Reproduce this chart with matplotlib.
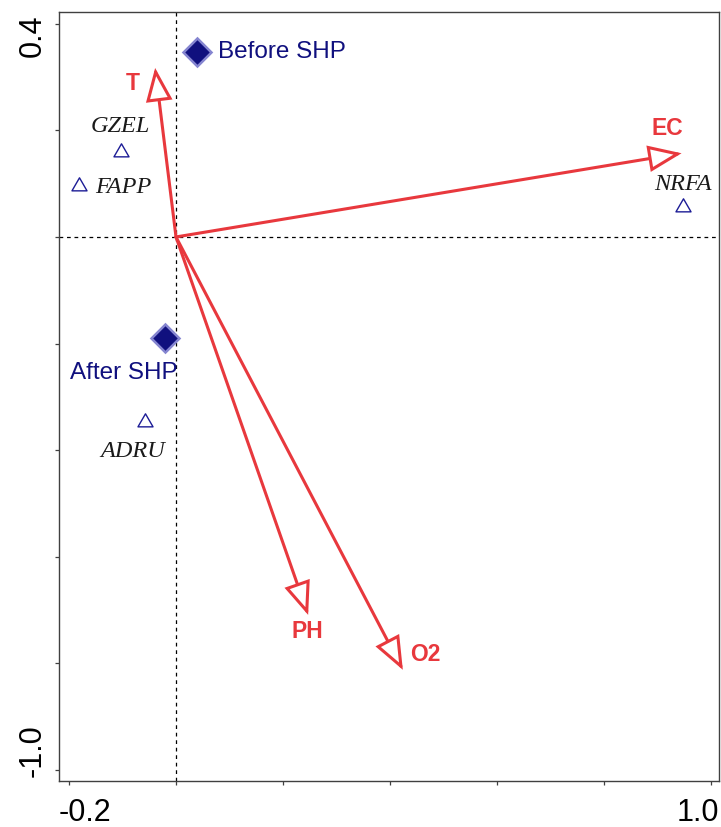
import matplotlib
matplotlib.use("Agg")
import matplotlib.pyplot as plt
from matplotlib.patches import FancyArrowPatch
from matplotlib.path import Path
from matplotlib.transforms import ScaledTranslation
import numpy as np

# ---- data ----
env_names = ["T", "EC", "PH", "O2"]
env_x = [-0.039, 0.945, 0.247, 0.424]
env_y = [0.317, 0.157, -0.709, -0.812]

site_names = ["Before SHP", "After SHP"]
site_x = [0.0387, -0.0206]
site_y = [0.3465, -0.190]

species_names = ["GZEL", "FAPP", "NRFA", "ADRU"]
species_x = [-0.1034, -0.181, 0.947, -0.058]
species_y = [0.159, 0.0963, 0.0569, -0.348]

x_ticks = [-0.2, 0.0, 0.2, 0.4, 0.6, 0.8, 1.0]
x_ticklabels = ["-0.2", "", "", "", "", "", "1.0"]
y_ticks = [0.4, 0.2, 0.0, -0.2, -0.4, -0.6, -0.8, -1.0]
y_ticklabels = ["0.4", "", "", "", "", "", "", "-1.0"]

# ---- styles ----
RED = "#E8383D"
NAVY = "#10107E"
env_offsets = [(-22, -16), (-14, 25), (-1, -17), (22, 15)]  # pixels
env_ha = ["center", "center", "center", "center"]
site_offsets = [(21, 0), (-41, -35)]
site_ha = ["left", "center"]
species_offsets = [(0, 26), (16, -2), (0, 22), (-12, -29)]
species_ha = ["center", "left", "center", "center"]

fig = plt.figure(figsize=(7.21, 8.27), dpi=100)
ax = fig.add_axes([59 / 721, (827 - 781) / 827, (719 - 59) / 721, (781 - 12) / 827])
ax.set_xlim(-0.2187, 1.015)
ax.set_ylim(-1.0206, 0.422)

# dashed axes through origin
ax.axhline(0, color="black", lw=0.9, ls=(0, (3, 3)), zorder=1)
ax.axvline(0, color="black", lw=0.9, ls=(0, (3, 3)), zorder=1)

# environmental arrows
for name, ex, ey, off, ha in zip(env_names, env_x, env_y, env_offsets, env_ha):
    arr = FancyArrowPatch((0, 0), (ex, ey),
                          arrowstyle="-|>,head_length=2.0,head_width=0.8",
                          mutation_scale=10, shrinkA=0, shrinkB=0,
                          lw=2.2, edgecolor=RED, facecolor="white",
                          joinstyle="miter", zorder=3)
    ax.add_patch(arr)
    ax.annotate(name, (ex, ey), xytext=off, textcoords="offset pixels",
                ha=ha, va="center", color=RED, fontsize=16.5,
                fontweight="bold", family="Liberation Sans", zorder=5)

# sites
ax.plot(site_x, site_y, ls="none", marker="D", markersize=14,
        markerfacecolor=NAVY, markeredgecolor="#8585D0", markeredgewidth=1.8, zorder=4)
for name, sx, sy, off, ha in zip(site_names, site_x, site_y, site_offsets, site_ha):
    ax.annotate(name, (sx, sy), xytext=off, textcoords="offset pixels",
                ha=ha, va="center", color=NAVY, fontsize=17.5,
                family="Liberation Sans", zorder=5)

# species
tri = Path([(0, 0.577), (-0.5, -0.289), (0.5, -0.289), (0, 0.577)],
           [Path.MOVETO, Path.LINETO, Path.LINETO, Path.CLOSEPOLY])
ax.plot(species_x, species_y, ls="none", marker=tri, markersize=12.5,
        markerfacecolor="none", markeredgecolor="#1C1C96", markeredgewidth=1.0, zorder=4)
for name, px, py, off, ha in zip(species_names, species_x, species_y, species_offsets, species_ha):
    ax.annotate(name, (px, py), xytext=off, textcoords="offset pixels",
                ha=ha, va="center", color="#1a1a1a", fontsize=17.5,
                family="Liberation Serif", style="italic", zorder=5)

# frame and ticks
for sp in ax.spines.values():
    sp.set_color("#404040")
    sp.set_linewidth(1.0)
ax.set_xticks(x_ticks)
ax.set_xticklabels(x_ticklabels)
ax.set_yticks(y_ticks)
ax.set_yticklabels(y_ticklabels, rotation=90)
ax.tick_params(direction="out", length=3, width=0.9, color="#404040",
               labelsize=22, pad=5)
ax.tick_params(axis="x", pad=9)
for lab in ax.get_xticklabels() + ax.get_yticklabels():
    lab.set_family("Liberation Sans")

xl = ax.get_xticklabels()
xl[0].set_ha("left")
xl[0].set_transform(xl[0].get_transform() + ScaledTranslation(-0.10, 0, fig.dpi_scale_trans))
xl[-1].set_ha("right")
xl[-1].set_transform(xl[-1].get_transform() + ScaledTranslation(0.08, 0, fig.dpi_scale_trans))
yl = ax.get_yticklabels()
yl[0].set_va("top")
yl[0].set_transform(yl[0].get_transform() + ScaledTranslation(0, 0.09, fig.dpi_scale_trans))
yl[-1].set_va("bottom")
yl[-1].set_transform(yl[-1].get_transform() + ScaledTranslation(0, -0.07, fig.dpi_scale_trans))

fig.savefig("out.png", dpi=100)
